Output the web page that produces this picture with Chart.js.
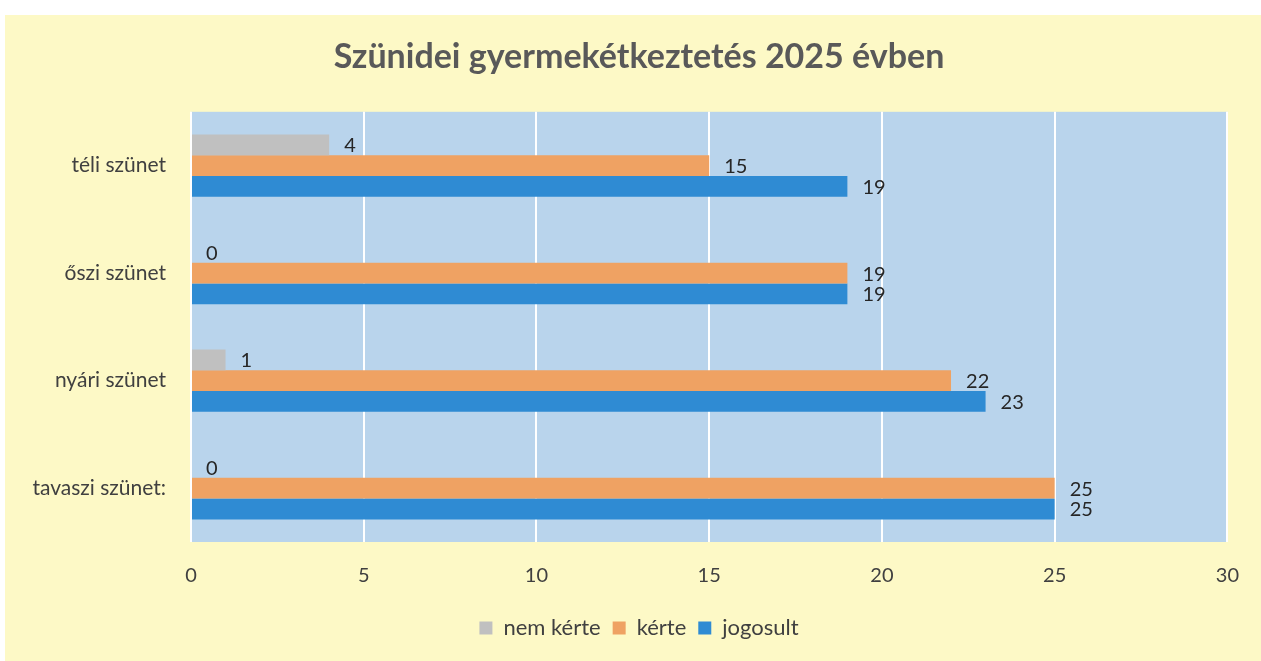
<!DOCTYPE html>
<html>
<head>
<meta charset="utf-8">
<script src="https://cdn.jsdelivr.net/npm/chart.js@4"></script>
<style>
  html, body { margin:0; padding:0; background:#fff; }
  #wrap { position:absolute; left:5px; top:15px; width:1256px; height:646px; background:#fdf9c6; }
</style>
</head>
<body>
<div id="wrap"><canvas id="c" width="1256" height="646"></canvas></div>
<script>
'use strict';
const categories = ['téli szünet', 'őszi szünet', 'nyári szünet', 'tavaszi szünet:'];
const seriesNames = ['nem kérte', 'kérte', 'jogosult'];
const nemKerte = [4, 0, 1, 0];
const kerte = [15, 19, 22, 25];
const jogosult = [19, 19, 23, 25];
const colors = ['#c0c0c0', '#efa263', '#2f8bd3'];
const xMax = 30, xStep = 5;

const FONT = 'Lato, "Open Sans", sans-serif';

// plot area background
const plotBg = {
  id: 'plotBg',
  beforeDraw(chart) {
    const a = chart.chartArea, ctx = chart.ctx;
    ctx.save();
    ctx.fillStyle = '#b9d4ec';
    ctx.fillRect(a.left, a.top, a.right - a.left, a.bottom - a.top);
    ctx.restore();
  }
};
// value labels at bar end
const barValues = {
  id: 'barValues',
  afterDatasetsDraw(chart) {
    const ctx = chart.ctx;
    ctx.save();
    ctx.font = '20px ' + FONT;
    ctx.fillStyle = '#262626';
    ctx.textAlign = 'left';
    ctx.textBaseline = 'middle';
    chart.data.datasets.forEach((ds, i) => {
      chart.getDatasetMeta(i).data.forEach((bar, j) => {
        ctx.fillText(String(ds.data[j]), bar.x + 15, bar.y + 1);
      });
    });
    ctx.restore();
  }
};

new Chart(document.getElementById('c'), {
  type: 'bar',
  data: {
    labels: categories,
    datasets: [nemKerte, kerte, jogosult].map((d, i) => ({
      label: seriesNames[i], data: d, backgroundColor: colors[i],
      borderWidth: 0, categoryPercentage: 0.58, barPercentage: 1
    }))
  },
  options: {
    indexAxis: 'y',
    responsive: false,
    animation: false,
    layout: { padding: { left: 12, right: 0, top: 0, bottom: 12 } },
    scales: {
      x: {
        min: 0, max: xMax,
        ticks: { stepSize: xStep, padding: 22, color: '#404040', font: { family: FONT, size: 20 } },
        grid: { color: '#ffffff', lineWidth: 2, drawTicks: false },
        border: { display: false },
        afterFit(s) { s.height = 63; }
      },
      y: {
        ticks: { padding: 17, color: '#404040', font: { family: FONT, size: 21 } },
        grid: { display: false },
        border: { display: false },
        afterFit(s) { s.width = 174; }
      },
      // empty spacer on the right so the title and legend centre over the whole panel
      yRight: {
        position: 'right',
        ticks: { display: false },
        grid: { display: false },
        border: { display: false },
        afterFit(s) { s.width = 29; }
      }
    },
    plugins: {
      title: {
        display: true, text: 'Szünidei gyermekétkeztetés 2025 évben',
        color: '#595959', font: { family: FONT, size: 34, weight: 'bold' },
        padding: { top: 22, bottom: 34 }
      },
      legend: {
        position: 'bottom',
        labels: { color: '#404040', font: { family: FONT, size: 22 }, boxWidth: 13, boxHeight: 13, padding: 12 }
      },
      tooltip: { enabled: false }
    }
  },
  plugins: [plotBg, barValues]
});
</script>
</body>
</html>
